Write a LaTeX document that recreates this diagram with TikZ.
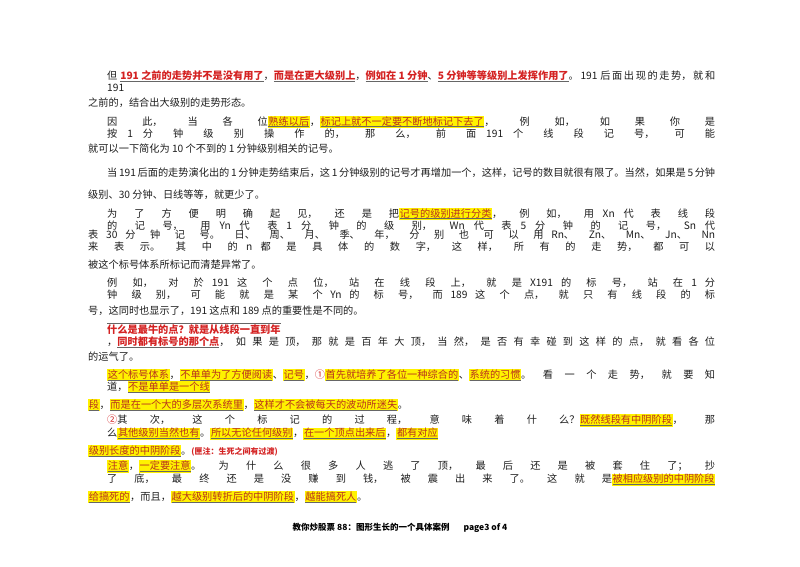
\documentclass[tikz,border=0pt]{standalone}
\usepackage{fontspec}
\setmainfont{Noto Sans CJK SC}
\definecolor{hlred}{HTML}{B8321E}
\definecolor{rd}{HTML}{D42222}
\definecolor{tx}{HTML}{1E1E1E}
\newcommand\myul[1]{\setbox0\hbox{#1}\rlap{\color{black!60}\rule[-2.2pt]{\wd0}{0.8pt}}\box0}
\newcommand\hlx[1]{{\fboxsep=0.6pt\colorbox{yellow}{\color{hlred}\myul{#1}}}}
\newcommand\rul[1]{{\color{rd}\myul{#1}}}
\newcommand\jl[4]{\node[anchor=west,inner sep=0] (#1) at (#2,566-#3) {\parbox{\dimexpr 715pt-#2pt\relax}{\parfillskip=0pt\parindent=0pt #4}};}
\newcommand\nl[4]{\node[anchor=west,inner sep=0] (#1) at (#2,566-#3) {#4};}
\begin{document}
\begin{tikzpicture}[x=1pt,y=1pt,every node/.style={font=\fontsize{10.2}{12}\selectfont\color{tx}}]
\XeTeXlinebreaklocale "zh"
\XeTeXlinebreakskip=0pt plus 3pt
\hbadness=10000 \hfuzz=20pt
\useasboundingbox (0,0) rectangle (800,566);
\fill[white] (0,0) rectangle (800,566);
\jl{l1}{107}{81}{但 \rul{\textbf{191 之前的走势并不是没有用了}}，\rul{\textbf{而是在更大级别上}}，\rul{\textbf{例如在 1 分钟}}、\rul{\textbf{5 分钟等等级别上发挥作用了}}。191 后面出现的走势，就和 191}
\nl{l2}{88}{103}{之前的，结合出大级别的走势形态。}
\jl{l3}{107}{127}{因此，当各位\hlx{熟练以后}，\hlx{标记上就不一定要不断地标记下去了}，例如，如果你是按 1 分钟级别操作的，那么，前面 191 个线段记号，可能}
\nl{l4}{88}{149}{就可以一下简化为 10 个不到的 1 分钟级别相关的记号。}
\jl{l5}{107}{173}{当 191 后面的走势演化出的 1 分钟走势结束后，这 1 分钟级别的记号才再增加一个，这样，记号的数目就很有限了。当然，如果是 5 分钟}
\nl{l6}{88}{195}{级别、30 分钟、日线等等，就更少了。}
\jl{l7}{107}{219}{为了方便明确起见，还是把\hlx{记号的级别进行分类}，例如，用 Xn 代表线段的记号，用 Yn 代表 1 分钟的级别，Wn 代表 5 分钟的记号，Sn 代}
\jl{l8}{88}{241}{表 30 分钟记号。日、周、月、季、年，分别也可以用 Rn、Zn、Mn、Jn、Nn 来表示。其中的 n 都是具体的数字，这样，所有的走势，都可以}
\nl{l9}{88}{265}{被这个标号体系所标记而清楚异常了。}
\jl{l10}{107}{289}{例如，对於 191 这个点位，站在线段上，就是 X191 的标号，站在 1 分钟级别，可能就是某个 Yn 的标号，而 189 这个点，就只有线段的标}
\nl{l11}{88}{311}{号，这同时也显示了，191 这点和 189 点的重要性是不同的。}
\jl{l12}{107}{335}{\rul{\textbf{什么是最牛的点？就是从线段一直到年}}，\rul{\textbf{同时都有标号的那个点}}，如果是顶，那就是百年大顶，当然，是否有幸碰到这样的点，就看各位}
\nl{l13}{88}{357}{的运气了。}
\jl{l14}{107}{381}{\hlx{这个标号体系}，\hlx{不单单为了方便阅读}、\hlx{记号}，{\color{rd}①}\hlx{首先就培养了各位一种综合的}、\hlx{系统的习惯}。看一个走势，就要知道，\hlx{不是单单是一个线}}
\nl{l15}{88}{405}{\hlx{段}，\hlx{而是在一个大的多层次系统里}，\hlx{这样才不会被每天的波动所迷失}。}
\jl{l16}{107}{427}{{\color{rd}②}其次，这个标记的过程，意味着什么？\hlx{既然线段有中阴阶段}，那么\hlx{其他级别当然也有}。\hlx{所以无论任何级别}，\hlx{在一个顶点出来后}，\hlx{都有对应}}
\nl{l17}{88}{451}{\hlx{级别长度的中阴阶段}。{\color{rd}\fontsize{8}{10}\selectfont\bfseries (匣注：生死之间有过渡)}}
\jl{l18}{107}{473}{\hlx{注意}，\hlx{一定要注意}。为什么很多人逃了顶，最后还是被套住了；抄了底，最终还是没赚到钱，被震出来了。这就是\hlx{被相应级别的中阴阶段}}
\nl{l19}{88}{497}{\hlx{给搞死的}，而且，\hlx{越大级别转折后的中阴阶段}，\hlx{越能搞死人}。}
\node[font=\fontsize{8.5}{10}\selectfont\bfseries] (ft) at (400,566-528) {教你炒股票 88：图形生长的一个具体案例\hspace{14pt}page3 of 4};
\end{tikzpicture}
\end{document}
